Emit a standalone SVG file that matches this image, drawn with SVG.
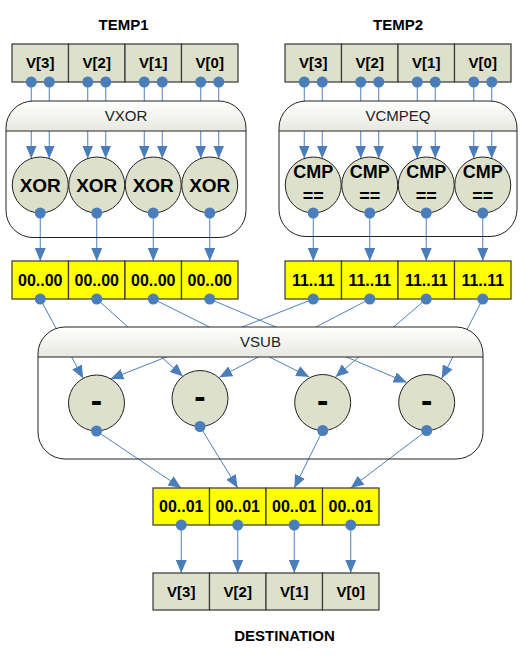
<svg xmlns="http://www.w3.org/2000/svg" width="530" height="656" viewBox="0 0 530 656">
<style>
.t{font-family:"Liberation Sans",Arial,sans-serif;font-weight:bold;text-anchor:middle;fill:#000}
.v{font-size:15px}
.y{font-size:16px}
.op{font-size:19px}
.cmp{font-size:18px}
.mn{font-size:34px}
.hdr{font-family:"Liberation Sans",Arial,sans-serif;font-size:15px;text-anchor:middle;fill:#222}
.reg{fill:#dde0cb;stroke:#3c3c3c;stroke-width:1.25}
.yel{fill:#ffff00;stroke:#3c3c3c;stroke-width:1.25}
.circ{fill:#dde0cb;stroke:#222;stroke-width:1}
.dot{fill:#4a7ebb}
.hfill{fill:url(#hg);stroke:none}
.box{fill:none;stroke:#222;stroke-width:1}
.conn line{stroke:#4f81bd;stroke-width:1;fill:none;marker-end:url(#arr)}
</style>
<defs>
<linearGradient id="hg" x1="0" y1="0" x2="0" y2="1">
<stop offset="0" stop-color="#ffffff"/>
<stop offset="1" stop-color="#e8e8e1"/>
</linearGradient>
<marker id="arr" markerUnits="userSpaceOnUse" markerWidth="13" markerHeight="11" refX="13" refY="5.5" orient="auto">
<path d="M0,0 L13,5.5 L0,11 Z" fill="#4a7ebb"/>
</marker>
</defs>

<rect width="530" height="656" fill="#fff"/>

<g id="connectors" class="conn">
<line x1="31.25" y1="82" x2="31.25" y2="158.5"/>
<line x1="49.25" y1="82" x2="49.25" y2="158.5"/>
<line x1="87.75" y1="82" x2="87.75" y2="158.5"/>
<line x1="105.75" y1="82" x2="105.75" y2="158.5"/>
<line x1="144.25" y1="82" x2="144.25" y2="158.5"/>
<line x1="162.25" y1="82" x2="162.25" y2="158.5"/>
<line x1="200.75" y1="82" x2="200.75" y2="158.5"/>
<line x1="218.75" y1="82" x2="218.75" y2="158.5"/>
<line x1="304.25" y1="82" x2="304.25" y2="158.5"/>
<line x1="322.25" y1="82" x2="322.25" y2="158.5"/>
<line x1="360.75" y1="82" x2="360.75" y2="158.5"/>
<line x1="378.75" y1="82" x2="378.75" y2="158.5"/>
<line x1="417.25" y1="82" x2="417.25" y2="158.5"/>
<line x1="435.25" y1="82" x2="435.25" y2="158.5"/>
<line x1="473.75" y1="82" x2="473.75" y2="158.5"/>
<line x1="491.75" y1="82" x2="491.75" y2="158.5"/>
<line x1="40.25" y1="213" x2="40.25" y2="261"/>
<line x1="96.75" y1="213" x2="96.75" y2="261"/>
<line x1="153.25" y1="213" x2="153.25" y2="261"/>
<line x1="209.75" y1="213" x2="209.75" y2="261"/>
<line x1="313.25" y1="213" x2="313.25" y2="261"/>
<line x1="369.75" y1="213" x2="369.75" y2="261"/>
<line x1="426.25" y1="213" x2="426.25" y2="261"/>
<line x1="482.75" y1="213" x2="482.75" y2="261"/>
<line x1="40.25" y1="299" x2="83.2" y2="378.4"/>
<line x1="96.75" y1="299" x2="183" y2="376.5"/>
<line x1="153.25" y1="299" x2="309.3" y2="377"/>
<line x1="209.75" y1="299" x2="406.7" y2="382.5"/>
<line x1="313.25" y1="299" x2="110.5" y2="379"/>
<line x1="369.75" y1="299" x2="219.3" y2="377.3"/>
<line x1="426.25" y1="299" x2="335.5" y2="377"/>
<line x1="482.75" y1="299" x2="441.7" y2="378.5"/>
<line x1="96.5" y1="431" x2="181.25" y2="488"/>
<line x1="200" y1="426.5" x2="237.75" y2="488"/>
<line x1="322.7" y1="430.5" x2="294.25" y2="488"/>
<line x1="426.7" y1="430.5" x2="350.75" y2="488"/>
<line x1="181.25" y1="525" x2="181.25" y2="573"/>
<line x1="237.75" y1="525" x2="237.75" y2="573"/>
<line x1="294.25" y1="525" x2="294.25" y2="573"/>
<line x1="350.75" y1="525" x2="350.75" y2="573"/>
</g>

<g id="vxor">
<path class="hfill" d="M6,131 V128 A27,27 0 0 1 33,101 H219 A27,27 0 0 1 246,128 V131 Z"/>
<rect class="box" x="6" y="101" width="240" height="136.5" rx="27" ry="27"/>
<line x1="6" y1="131" x2="246" y2="131" stroke="#222" stroke-width="1"/>
<text class="hdr" x="126" y="121">VXOR</text>
</g>

<g id="vcmpeq">
<path class="hfill" d="M279,131 V128 A27,27 0 0 1 306,101 H490 A27,27 0 0 1 517,128 V131 Z"/>
<rect class="box" x="279" y="101" width="238" height="135.5" rx="27" ry="27"/>
<line x1="279" y1="131" x2="517" y2="131" stroke="#222" stroke-width="1"/>
<text class="hdr" x="398" y="121">VCMPEQ</text>
</g>

<g id="vsub">
<path class="hfill" d="M38,357 V354 A27,27 0 0 1 65,327 H456 A27,27 0 0 1 483,354 V357 Z"/>
<rect class="box" x="38" y="327" width="445" height="132" rx="27" ry="27"/>
<line x1="38" y1="357" x2="483" y2="357" stroke="#222" stroke-width="1"/>
<text class="hdr" x="260.5" y="347">VSUB</text>
</g>

<g id="temp1">
<text class="t v" x="123.5" y="30">TEMP1</text>
<rect class="reg" x="12" y="44" width="56.5" height="38"/>
<rect class="reg" x="68.5" y="44" width="56.5" height="38"/>
<rect class="reg" x="125" y="44" width="56.5" height="38"/>
<rect class="reg" x="181.5" y="44" width="56.5" height="38"/>
<text class="t v" x="40.25" y="68">V[3]</text>
<text class="t v" x="96.75" y="68">V[2]</text>
<text class="t v" x="153.25" y="68">V[1]</text>
<text class="t v" x="209.75" y="68">V[0]</text>
<circle class="dot" cx="31.25" cy="82" r="5.5"/>
<circle class="dot" cx="49.25" cy="82" r="5.5"/>
<circle class="dot" cx="87.75" cy="82" r="5.5"/>
<circle class="dot" cx="105.75" cy="82" r="5.5"/>
<circle class="dot" cx="144.25" cy="82" r="5.5"/>
<circle class="dot" cx="162.25" cy="82" r="5.5"/>
<circle class="dot" cx="200.75" cy="82" r="5.5"/>
<circle class="dot" cx="218.75" cy="82" r="5.5"/>
</g>

<g id="temp2">
<text class="t v" x="398" y="30">TEMP2</text>
<rect class="reg" x="285" y="44" width="56.5" height="38"/>
<rect class="reg" x="341.5" y="44" width="56.5" height="38"/>
<rect class="reg" x="398" y="44" width="56.5" height="38"/>
<rect class="reg" x="454.5" y="44" width="56.5" height="38"/>
<text class="t v" x="313.25" y="68">V[3]</text>
<text class="t v" x="369.75" y="68">V[2]</text>
<text class="t v" x="426.25" y="68">V[1]</text>
<text class="t v" x="482.75" y="68">V[0]</text>
<circle class="dot" cx="304.25" cy="82" r="5.5"/>
<circle class="dot" cx="322.25" cy="82" r="5.5"/>
<circle class="dot" cx="360.75" cy="82" r="5.5"/>
<circle class="dot" cx="378.75" cy="82" r="5.5"/>
<circle class="dot" cx="417.25" cy="82" r="5.5"/>
<circle class="dot" cx="435.25" cy="82" r="5.5"/>
<circle class="dot" cx="473.75" cy="82" r="5.5"/>
<circle class="dot" cx="491.75" cy="82" r="5.5"/>
</g>

<g id="xor3"><circle class="circ" cx="40.25" cy="185" r="28"/><text class="t op" x="40.25" y="192">XOR</text><circle class="dot" cx="40.25" cy="213" r="5.5"/></g>
<g id="xor2"><circle class="circ" cx="96.75" cy="185" r="28"/><text class="t op" x="96.75" y="192">XOR</text><circle class="dot" cx="96.75" cy="213" r="5.5"/></g>
<g id="xor1"><circle class="circ" cx="153.25" cy="185" r="28"/><text class="t op" x="153.25" y="192">XOR</text><circle class="dot" cx="153.25" cy="213" r="5.5"/></g>
<g id="xor0"><circle class="circ" cx="209.75" cy="185" r="28"/><text class="t op" x="209.75" y="192">XOR</text><circle class="dot" cx="209.75" cy="213" r="5.5"/></g>

<g id="cmp3"><circle class="circ" cx="313.25" cy="185" r="28"/><text class="t cmp" x="313.25" y="178">CMP</text><text class="t cmp" x="313.25" y="202">==</text><circle class="dot" cx="313.25" cy="213" r="5.5"/></g>
<g id="cmp2"><circle class="circ" cx="369.75" cy="185" r="28"/><text class="t cmp" x="369.75" y="178">CMP</text><text class="t cmp" x="369.75" y="202">==</text><circle class="dot" cx="369.75" cy="213" r="5.5"/></g>
<g id="cmp1"><circle class="circ" cx="426.25" cy="185" r="28"/><text class="t cmp" x="426.25" y="178">CMP</text><text class="t cmp" x="426.25" y="202">==</text><circle class="dot" cx="426.25" cy="213" r="5.5"/></g>
<g id="cmp0"><circle class="circ" cx="482.75" cy="185" r="28"/><text class="t cmp" x="482.75" y="178">CMP</text><text class="t cmp" x="482.75" y="202">==</text><circle class="dot" cx="482.75" cy="213" r="5.5"/></g>

<g id="xor-result">
<rect class="yel" x="12" y="261" width="56.5" height="38"/>
<rect class="yel" x="68.5" y="261" width="56.5" height="38"/>
<rect class="yel" x="125" y="261" width="56.5" height="38"/>
<rect class="yel" x="181.5" y="261" width="56.5" height="38"/>
<text class="t y" x="40.25" y="285.5">00..00</text>
<text class="t y" x="96.75" y="285.5">00..00</text>
<text class="t y" x="153.25" y="285.5">00..00</text>
<text class="t y" x="209.75" y="285.5">00..00</text>
<circle class="dot" cx="40.25" cy="299" r="5.5"/>
<circle class="dot" cx="96.75" cy="299" r="5.5"/>
<circle class="dot" cx="153.25" cy="299" r="5.5"/>
<circle class="dot" cx="209.75" cy="299" r="5.5"/>
</g>

<g id="cmp-result">
<rect class="yel" x="285" y="261" width="56.5" height="38"/>
<rect class="yel" x="341.5" y="261" width="56.5" height="38"/>
<rect class="yel" x="398" y="261" width="56.5" height="38"/>
<rect class="yel" x="454.5" y="261" width="56.5" height="38"/>
<text class="t y" x="313.25" y="285.5">11..11</text>
<text class="t y" x="369.75" y="285.5">11..11</text>
<text class="t y" x="426.25" y="285.5">11..11</text>
<text class="t y" x="482.75" y="285.5">11..11</text>
<circle class="dot" cx="313.25" cy="299" r="5.5"/>
<circle class="dot" cx="369.75" cy="299" r="5.5"/>
<circle class="dot" cx="426.25" cy="299" r="5.5"/>
<circle class="dot" cx="482.75" cy="299" r="5.5"/>
</g>

<g id="sub3"><circle class="circ" cx="96.5" cy="403" r="28"/><text class="t mn" x="96.5" y="412">-</text><circle class="dot" cx="96.5" cy="431" r="5.5"/></g>
<g id="sub2"><circle class="circ" cx="200" cy="398.5" r="28"/><text class="t mn" x="200" y="408">-</text><circle class="dot" cx="200" cy="426.5" r="5.5"/></g>
<g id="sub1"><circle class="circ" cx="322.7" cy="402.5" r="28"/><text class="t mn" x="322.7" y="412">-</text><circle class="dot" cx="322.7" cy="430.5" r="5.5"/></g>
<g id="sub0"><circle class="circ" cx="426.7" cy="402.5" r="28"/><text class="t mn" x="426.7" y="412">-</text><circle class="dot" cx="426.7" cy="430.5" r="5.5"/></g>

<g id="sub-result">
<rect class="yel" x="153" y="488" width="56.5" height="37"/>
<rect class="yel" x="209.5" y="488" width="56.5" height="37"/>
<rect class="yel" x="266" y="488" width="56.5" height="37"/>
<rect class="yel" x="322.5" y="488" width="56.5" height="37"/>
<text class="t y" x="181.25" y="512">00..01</text>
<text class="t y" x="237.75" y="512">00..01</text>
<text class="t y" x="294.25" y="512">00..01</text>
<text class="t y" x="350.75" y="512">00..01</text>
<circle class="dot" cx="181.25" cy="525" r="5.5"/>
<circle class="dot" cx="237.75" cy="525" r="5.5"/>
<circle class="dot" cx="294.25" cy="525" r="5.5"/>
<circle class="dot" cx="350.75" cy="525" r="5.5"/>
</g>

<g id="destination">
<rect class="reg" x="153" y="573" width="56.5" height="37"/>
<rect class="reg" x="209.5" y="573" width="56.5" height="37"/>
<rect class="reg" x="266" y="573" width="56.5" height="37"/>
<rect class="reg" x="322.5" y="573" width="56.5" height="37"/>
<text class="t v" x="181.25" y="597">V[3]</text>
<text class="t v" x="237.75" y="597">V[2]</text>
<text class="t v" x="294.25" y="597">V[1]</text>
<text class="t v" x="350.75" y="597">V[0]</text>
<text class="t v" x="284.5" y="641">DESTINATION</text>
</g>
</svg>
